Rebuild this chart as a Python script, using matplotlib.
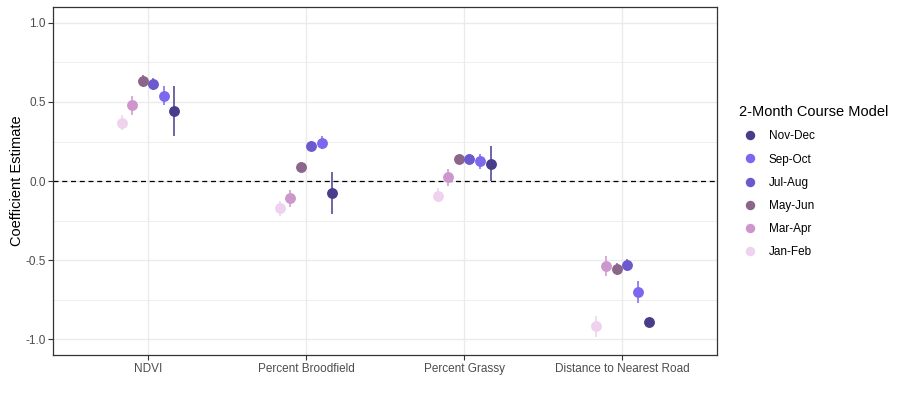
import matplotlib.pyplot as plt
import numpy as np
from matplotlib.ticker import MultipleLocator

plt.rcParams['font.family'] = ['Liberation Sans', 'DejaVu Sans']

variables = ['NDVI', 'Percent Broodfield', 'Percent Grassy', 'Distance to Nearest Road']
seasons = ['Jan-Feb', 'Mar-Apr', 'May-Jun', 'Jul-Aug', 'Sep-Oct', 'Nov-Dec']
colors = ['#EED2EE', '#CD96CD', '#8B668B', '#6A5ACD', '#7B68EE', '#483D8B']

# estimate per season, one value per variable
est = {
    'Jan-Feb': [0.367, -0.171, -0.095, -0.918],
    'Mar-Apr': [0.483, -0.108, 0.025, -0.538],
    'May-Jun': [0.633, 0.091, 0.139, -0.557],
    'Jul-Aug': [0.616, 0.223, 0.139, -0.532],
    'Sep-Oct': [0.538, 0.240, 0.127, -0.703],
    'Nov-Dec': [0.443, -0.076, 0.108, -0.892],
}
lower = {
    'Jan-Feb': [0.32, -0.218, -0.135, -0.984],
    'Mar-Apr': [0.42, -0.161, -0.028, -0.597],
    'May-Jun': [0.592, 0.059, 0.120, -0.591],
    'Jul-Aug': [0.578, 0.192, 0.109, -0.566],
    'Sep-Oct': [0.483, 0.204, 0.078, -0.768],
    'Nov-Dec': [0.287, -0.207, 0.0, -0.915],
}
upper = {
    'Jan-Feb': [0.42, -0.125, -0.044, -0.853],
    'Mar-Apr': [0.54, -0.055, 0.078, -0.473],
    'May-Jun': [0.673, 0.122, 0.158, -0.516],
    'Jul-Aug': [0.652, 0.255, 0.173, -0.494],
    'Sep-Oct': [0.603, 0.287, 0.173, -0.631],
    'Nov-Dec': [0.603, 0.059, 0.223, -0.870],
}

fig = plt.figure(figsize=(9, 4), dpi=100)
ax = fig.add_axes([0.0592, 0.112, 0.7375, 0.8705])

x = np.arange(1, len(variables) + 1)
dodge = 0.4
handles = []
for i, (s, c) in enumerate(zip(seasons, colors)):
    xs = x + (i - (len(seasons) - 1) / 2) * dodge / len(seasons)
    y = np.array(est[s])
    err = [y - np.array(lower[s]), np.array(upper[s]) - y]
    h = ax.errorbar(xs, y, yerr=err, fmt='o', color=c, ms=6.8, elinewidth=1.1,
                    capsize=0, zorder=3, label=s)
    handles.append(h[0])  # just the marker line for the legend

ax.axhline(0, color='black', lw=0.9, ls=(0, (4, 3)), zorder=2)

ax.set_xlim(0.4, 4.6)
ax.set_xticks(x)
ax.set_xticklabels(variables)
ax.yaxis.set_major_locator(MultipleLocator(0.5))
ax.yaxis.set_minor_locator(MultipleLocator(0.25))
ax.set_ylim(-1.1, 1.1)
ax.set_yticks([-1.0, -0.5, 0.0, 0.5, 1.0])
ax.set_yticklabels(['-1.0', '-0.5', '0.0', '0.5', '1.0'])
ax.grid(which='major', color='#EBEBEB', lw=1.0, zorder=0)
ax.grid(which='minor', axis='y', color='#EBEBEB', lw=0.6, zorder=0)
ax.set_axisbelow(True)
ax.tick_params(axis='both', which='major', length=3.5, width=0.8, color='#333333',
               labelcolor='#4D4D4D', labelsize=8.5, pad=2)
ax.tick_params(axis='y', which='minor', length=0)
for sp in ax.spines.values():
    sp.set_color('#333333')
    sp.set_linewidth(0.9)

ax.set_ylabel('Coefficient Estimate', fontsize=10.5, labelpad=1)

leg = fig.legend(handles[::-1], seasons[::-1], title='2-Month Course Model',
                 loc='upper left', bbox_to_anchor=(0.8142, 0.752), frameon=False,
                 fontsize=8.5, title_fontsize=10.5, labelspacing=0.95,
                 handletextpad=0.56, handlelength=2.0, borderpad=0,
                 markerscale=0.85)
leg._legend_box.align = 'left'

fig.savefig('out.png', dpi=100)
